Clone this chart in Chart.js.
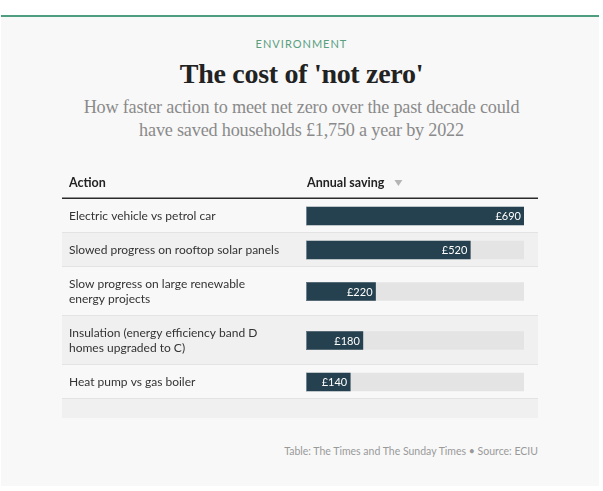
<!DOCTYPE html>
<html>
<head>
<meta charset="utf-8">
<script src="https://cdn.jsdelivr.net/npm/chart.js@4"></script>
<style>
  body { margin: 0; background: #fff; width: 603px; height: 491px; overflow: hidden; position: relative; font-family: Lato, sans-serif; }
  #panel { position: absolute; left: 1px; top: 15px; width: 598px; height: 469px; background: #f8f8f8; border-top: 2px solid #4f9e80; }
  .c { position: absolute; left: 0; width: 603px; text-align: center; }
  #kicker { top: 37px; font-size: 11px; letter-spacing: 1px; color: #5a9f80; }
  #title { top: 58px; font-family: "Liberation Serif", serif; font-weight: bold; font-size: 28px; color: #222; letter-spacing: -0.3px; }
  #sub { top: 96px; font-family: "Liberation Serif", serif; font-size: 18.2px; line-height: 23px; color: #8a8a8a; letter-spacing: -0.2px; }
  #foot { position: absolute; top: 445px; right: 65px; font-size: 10.5px; color: #9a9a9a; letter-spacing: 0px; }
  #wrap { position: absolute; left: 62px; top: 165px; width: 476px; height: 260px; }
</style>
</head>
<body>
<div id="panel"></div>
<div class="c" id="kicker">ENVIRONMENT</div>
<div class="c" id="title">The cost of 'not zero'</div>
<div class="c" id="sub">How faster action to meet net zero over the past decade could<br>have saved households £1,750 a year by 2022</div>
<div id="wrap"><canvas id="chart"></canvas></div>
<div id="foot">Table: The Times and The Sunday Times • Source: ECIU</div>
<script>
// DATA
const actions = [
  ['Electric vehicle vs petrol car'],
  ['Slowed progress on rooftop solar panels'],
  ['Slow progress on large renewable', 'energy projects'],
  ['Insulation (energy efficiency band D', 'homes upgraded to C)'],
  ['Heat pump vs gas boiler']
];
const savings = [690, 520, 220, 180, 140];
const headers = ['Action', 'Annual saving'];

// row layout (px units on the y scale), taller rows for wrapped labels
const lineH = 15;
const emptyRow = 19;
let rowHeights = actions.map(a => 19 + lineH * a.length);
let rowTops = [];
let acc = 0;
rowHeights.forEach(h => { rowTops.push(acc); acc += h; });
let rowCenters = rowTops.map((t, i) => t + rowHeights[i] / 2);
let totalH = acc + emptyRow;

let maxSaving = Math.max(...savings);
let labelX = 7;

let tablePlugin = {
  id: 'tablePlugin',
  beforeDatasetsDraw(chart) {
    let ctx = chart.ctx;
    let y = chart.scales.y;
    let w = chart.width;
    let area = chart.chartArea;
    ctx.save();
    let tops = rowTops.concat([acc]);
    let hs = rowHeights.concat([emptyRow]);
    tops.forEach((t, i) => {
      let y0 = y.getPixelForValue(t);
      let y1 = y.getPixelForValue(t + hs[i]);
      ctx.fillStyle = i % 2 ? '#f0f0f0' : '#f8f8f8';
      ctx.fillRect(0, y0, w, y1 - y0);
      if (i > 0) {
        ctx.fillStyle = '#e3e3e3';
        ctx.fillRect(0, y0 - 1, w, 1);
      }
    });
    // header line
    ctx.fillStyle = '#2a2a2a';
    ctx.fillRect(0, y.getPixelForValue(0) - 1.5, w, 1.5);

    // header text
    ctx.font = 'bold 12.5px Lato';
    ctx.fillStyle = '#222';
    ctx.textBaseline = 'middle';
    ctx.textAlign = 'left';
    let hy = y.getPixelForValue(0) - 16;
    ctx.fillText(headers[0], labelX, hy);
    ctx.fillText(headers[1], area.left + 1, hy);
    let tx = area.left + 1 + ctx.measureText(headers[1]).width + 10;
    ctx.fillStyle = '#b5b5b5';
    ctx.beginPath();
    ctx.moveTo(tx, hy - 3);
    ctx.lineTo(tx + 8, hy - 3);
    ctx.lineTo(tx + 4, hy + 3);
    ctx.closePath();
    ctx.fill();

    // row labels
    ctx.font = '12px Lato';
    ctx.fillStyle = '#333';
    actions.forEach((lines, i) => {
      let cy = y.getPixelForValue(rowCenters[i]);
      lines.forEach((ln, k) => {
        ctx.fillText(ln, labelX, cy + (k - (lines.length - 1) / 2) * lineH);
      });
    });
    ctx.restore();
  },
  afterDatasetsDraw(chart) {
    let ctx = chart.ctx;
    let meta = chart.getDatasetMeta(0);
    ctx.save();
    ctx.font = '11px Lato';
    ctx.textAlign = 'right';
    ctx.textBaseline = 'middle';
    meta.data.forEach((bar, i) => {
      ctx.fillStyle = '#fff';
      ctx.fillText('£' + savings[i], bar.x - 3, bar.y + 0.5);
      ctx.fillStyle = '#6f8590';
      ctx.fillRect(bar.base, bar.y - 9, 1, 18);
    });
    ctx.restore();
  }
};

let chart = new Chart(document.querySelector('#chart'), {
  type: 'bar',
  data: {
    datasets: [{
      data: savings.map((v, i) => ({ x: v, y: rowCenters[i] })),
      backgroundColor: '#25404e',
      barThickness: 18,
      grouped: false
    }, {
      data: savings.map((v, i) => ({ x: maxSaving, y: rowCenters[i] })),
      backgroundColor: '#e4e4e4',
      barThickness: 18,
      grouped: false
    }]
  },
  options: {
    indexAxis: 'y',
    responsive: true,
    maintainAspectRatio: false,
    animation: false,
    layout: { padding: { left: 244, right: 14, top: 34, bottom: 7 } },
    plugins: { legend: { display: false }, tooltip: { enabled: false } },
    scales: {
      x: { type: 'linear', display: false, min: 0, max: maxSaving },
      y: { type: 'linear', display: false, offset: false, reverse: true, min: 0, max: totalH }
    }
  },
  plugins: [tablePlugin]
});
</script>
</body>
</html>
